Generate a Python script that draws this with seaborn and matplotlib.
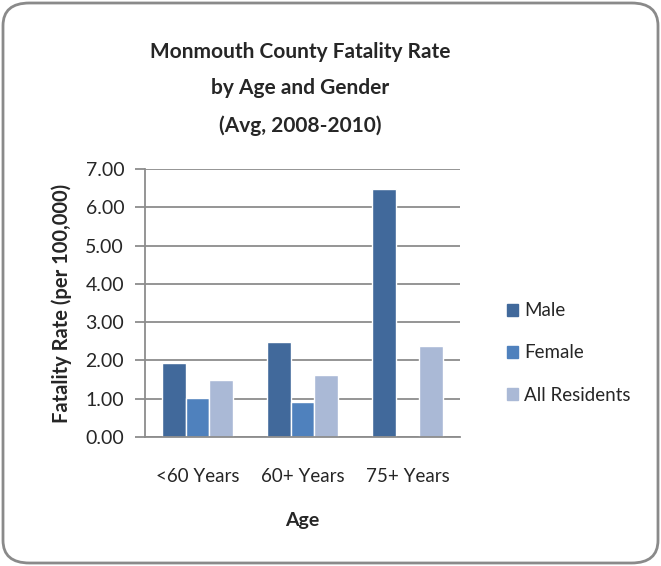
import matplotlib
matplotlib.use("Agg")
import matplotlib.pyplot as plt
from matplotlib.patches import FancyBboxPatch
import seaborn as sns
import pandas as pd
import numpy as np

# data
ages = ["<60 Years", "60+ Years", "75+ Years"]
male = [1.92, 2.47, 6.48]
female = [1.01, 0.92, np.nan]
all_res = [1.48, 1.62, 2.37]
series = ["Male", "Female", "All Residents"]
colors = ["#41699B", "#4F81BD", "#AAB9D6"]
yticks = [0, 1, 2, 3, 4, 5, 6, 7]

df = pd.DataFrame({
    "Age": ages * 3,
    "Rate": male + female + all_res,
    "Group": [s for s in series for _ in ages],
})

sns.set_style("white")
plt.rcParams["font.family"] = ["Lato", "DejaVu Sans"]

fig = plt.figure(figsize=(6.61, 5.66), dpi=100)
ax = fig.add_axes([145 / 661, 1 - 437 / 566, 315 / 661, 268 / 566])

sns.barplot(data=df, x="Age", y="Rate", hue="Group", palette=colors,
            saturation=1, width=0.667, gap=0, ax=ax, legend=False)

ax.set_ylim(0, 7)
ax.set_yticks(yticks)
ax.set_yticklabels([f"{v:.2f}" for v in yticks], fontsize=14)
ax.yaxis.grid(True, color="#8C8C8C", linewidth=1.3)
ax.set_axisbelow(True)
for s in ["top", "right"]:
    ax.spines[s].set_visible(False)
for s in ["left", "bottom"]:
    ax.spines[s].set_color("#8C8C8C")
    ax.spines[s].set_linewidth(1.3)
ax.tick_params(axis="y", left=True, length=7, color="#8C8C8C", width=1.3, pad=8)
ax.tick_params(axis="x", bottom=False, labelsize=13.5, pad=19)
ax.set_xlabel("Age", fontsize=14, fontweight="bold", labelpad=19)
ax.set_ylabel("Fatality Rate (per 100,000)", fontsize=14.5, fontweight="bold", labelpad=10)

fig.text(300 / 661, 1 - 89 / 566, "Monmouth County Fatality Rate\nby Age and Gender\n(Avg, 2008-2010)",
         ha="center", va="center", fontsize=15, fontweight="bold", linespacing=2.0)

handles = [plt.Rectangle((0, 0), 1, 1, color=c) for c in colors]
fig.legend(handles, series, loc="center left", bbox_to_anchor=(490 / 661, 1 - 353 / 566),
           frameon=False, fontsize=13.5, handlelength=0.6, handleheight=0.6,
           handletextpad=0.3, labelspacing=1.35)

border = FancyBboxPatch((3 / 661, 3 / 566), 655 / 661, 560 / 566,
                        boxstyle="round,pad=0,rounding_size=0.04",
                        transform=fig.transFigure, fill=False,
                        edgecolor="#8A8A8A", linewidth=2)
fig.patches.append(border)

fig.savefig("out.png", dpi=100)
